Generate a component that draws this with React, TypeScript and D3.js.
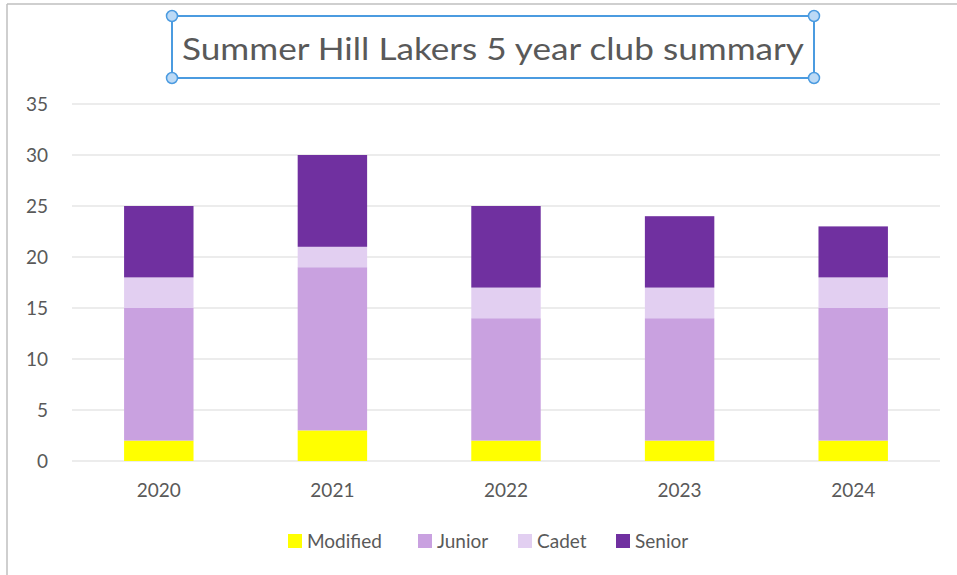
import React, { useEffect, useRef } from 'react';
import * as d3 from 'd3';

const years = ['2020', '2021', '2022', '2023', '2024'];
const seriesNames = ['Modified', 'Junior', 'Cadet', 'Senior'];
const modified = [2, 3, 2, 2, 2];
const junior = [13, 16, 12, 12, 13];
const cadet = [3, 2, 3, 3, 3];
const senior = [7, 9, 8, 7, 5];
const yTicks = [0, 5, 10, 15, 20, 25, 30, 35];
const colors = ['#FFFF00', '#C9A1E0', '#E2CFF1', '#7030A0'];
const title = 'Summer Hill Lakers 5 year club summary';

const W = 957;
const H = 575;
const FONT = 'Lato, "Open Sans", sans-serif';
const LABEL_SIZE = '19px';

const App = () => {
  const svgRef = useRef<SVGSVGElement>(null);

  useEffect(() => {
    const svg = d3.select(svgRef.current);
    svg.selectAll('*').remove();

    // chart border (partly cropped)
    svg.append('line').attr('x1', 7).attr('x2', W).attr('y1', 4).attr('y2', 4)
      .attr('stroke', '#bfbfbf').attr('stroke-width', 1.5);
    svg.append('line').attr('x1', 7).attr('x2', 7).attr('y1', 4).attr('y2', H)
      .attr('stroke', '#bfbfbf').attr('stroke-width', 1.5);

    const rows = years.map((y, i) => ({
      year: y,
      Modified: modified[i],
      Junior: junior[i],
      Cadet: cadet[i],
      Senior: senior[i],
    }));

    const x = d3.scaleBand().domain(years).range([72, 940]).paddingInner(0.6).paddingOuter(0.3);
    const y = d3.scaleLinear().domain([0, 35]).range([461, 104]);
    const color = d3.scaleOrdinal<string>().domain(seriesNames).range(colors);

    // gridlines
    svg.append('g')
      .selectAll('line')
      .data(yTicks)
      .join('line')
        .attr('x1', 72).attr('x2', 940)
        .attr('y1', d => y(d)).attr('y2', d => y(d))
        .attr('stroke', '#d9d9d9').attr('stroke-width', 1.2);

    // y labels
    svg.append('g')
      .selectAll('text')
      .data(yTicks)
      .join('text')
        .attr('x', 48).attr('y', d => y(d))
        .attr('dy', '0.35em')
        .attr('text-anchor', 'end')
        .style('font-family', FONT).style('font-size', LABEL_SIZE).style('fill', '#595959')
        .text(d => d);

    // stacked bars
    const stack = d3.stack<any>().keys(seriesNames)(rows);
    svg.append('g')
      .selectAll('g')
      .data(stack)
      .join('g')
        .attr('fill', d => color(d.key))
      .selectAll('rect')
      .data(d => d)
      .join('rect')
        .attr('x', d => x(d.data.year)!)
        .attr('width', x.bandwidth())
        .attr('y', d => y(d[1]))
        .attr('height', d => y(d[0]) - y(d[1]));

    // x labels
    svg.append('g')
      .selectAll('text')
      .data(years)
      .join('text')
        .attr('x', d => x(d)! + x.bandwidth() / 2)
        .attr('y', 490)
        .attr('dy', '0.35em')
        .attr('text-anchor', 'middle')
        .style('font-family', FONT).style('font-size', LABEL_SIZE).style('fill', '#595959')
        .text(d => d);

    // legend
    const legendX = [288, 418, 518, 616];
    const legend = svg.append('g')
      .selectAll('g')
      .data(seriesNames)
      .join('g')
        .attr('transform', (d, i) => `translate(${legendX[i]},541)`);
    legend.append('rect')
      .attr('x', 0).attr('y', -7).attr('width', 14).attr('height', 14)
      .attr('fill', d => color(d));
    legend.append('text')
      .attr('x', 19).attr('y', 0).attr('dy', '0.35em')
      .style('font-family', FONT).style('font-size', LABEL_SIZE).style('fill', '#595959')
      .text(d => d);

    // title with selection box
    svg.append('text')
      .attr('x', 493).attr('y', 49).attr('dy', '0.35em')
      .attr('text-anchor', 'middle')
      .attr('textLength', 622).attr('lengthAdjust', 'spacingAndGlyphs')
      .style('font-family', FONT).style('font-size', '31px').style('fill', '#595959')
      .text(title);

    const box = { x0: 172, x1: 814, y0: 16, y1: 78 };
    svg.append('rect')
      .attr('x', box.x0).attr('y', box.y0)
      .attr('width', box.x1 - box.x0).attr('height', box.y1 - box.y0)
      .attr('fill', 'none').attr('stroke', '#4b9be0').attr('stroke-width', 2);
    const corners = [[box.x0, box.y0], [box.x1, box.y0], [box.x0, box.y1], [box.x1, box.y1]];
    svg.append('g')
      .selectAll('circle')
      .data(corners)
      .join('circle')
        .attr('cx', d => d[0]).attr('cy', d => d[1]).attr('r', 5.5)
        .attr('fill', '#bcdaf6').attr('stroke', '#4b9be0').attr('stroke-width', 1.5);
  }, []);

  return (
    <svg
      ref={svgRef}
      width={W}
      height={H}
      style={{ position: 'absolute', left: 0, top: 0, background: '#fff' }}
    />
  );
};

export default App;
